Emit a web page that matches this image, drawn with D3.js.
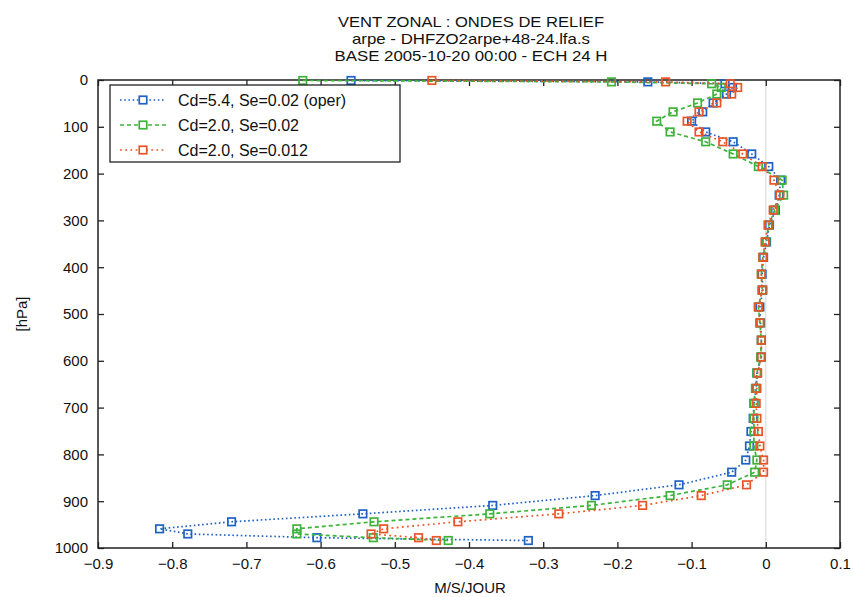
<!DOCTYPE html>
<html>
<head>
<meta charset="utf-8">
<title>Vent zonal : ondes de relief</title>
<script src="https://cdn.jsdelivr.net/npm/d3@7"></script>
<style>
    html, body { margin: 0; padding: 0; background: #fff; }
    svg { display: block; font-family: "Liberation Sans", Arial, Helvetica, sans-serif; }
</style>
</head>
<body>
<div id="chart"></div>
<script>
// Model levels (hPa), shared by the three runs
const levels = [1, 4, 8, 16, 30, 49, 68, 88, 111, 132,
    158, 185, 214, 246, 278, 310, 346, 379, 415, 449,
    485, 519, 556, 592, 626, 659, 691, 723, 751, 782,
    812, 838, 865, 888, 909, 927, 944, 959, 970, 978, 984];

// Cd=5.4, Se=0.02 (oper)
const operValues = [-0.559, -0.159, -0.055, -0.045, -0.053, -0.071, -0.085, -0.100, -0.081, -0.044,
    -0.019, 0.004, 0.020, 0.018, 0.013, 0.005, 0.001, -0.003, -0.005, -0.004,
    -0.008, -0.007, -0.006, -0.006, -0.012, -0.013, -0.016, -0.017, -0.020, -0.022,
    -0.027, -0.046, -0.117, -0.230, -0.368, -0.543, -0.720, -0.817, -0.779, -0.605, -0.320];

// Cd=2.0, Se=0.02
const cd2Values = [-0.624, -0.208, -0.073, -0.060, -0.066, -0.092, -0.125, -0.147, -0.129, -0.081,
    -0.044, -0.010, 0.022, 0.024, 0.012, 0.004, 0.000, -0.004, -0.006, -0.005,
    -0.010, -0.008, -0.006, -0.007, -0.012, -0.014, -0.016, -0.016, -0.016, -0.016,
    -0.012, -0.015, -0.052, -0.129, -0.235, -0.372, -0.528, -0.632, -0.632, -0.529, -0.428];

// Cd=2.0, Se=0.012
const cd2se012Values = [-0.450, -0.135, -0.048, -0.038, -0.046, -0.066, -0.090, -0.106, -0.090, -0.058,
    -0.031, -0.005, 0.011, 0.019, 0.010, 0.003, -0.001, -0.004, -0.006, -0.005,
    -0.010, -0.008, -0.006, -0.006, -0.011, -0.012, -0.013, -0.012, -0.010, -0.008,
    -0.003, -0.003, -0.026, -0.087, -0.166, -0.279, -0.415, -0.515, -0.532, -0.468, -0.444];

const seriesNames = ['Cd=5.4, Se=0.02 (oper)', 'Cd=2.0, Se=0.02', 'Cd=2.0, Se=0.012'];
const xTicks = [-0.9, -0.8, -0.7, -0.6, -0.5, -0.4, -0.3, -0.2, -0.1, 0, 0.1];
const yTicks = [0, 100, 200, 300, 400, 500, 600, 700, 800, 900, 1000];
const titleLines = ['VENT ZONAL : ONDES DE RELIEF', 'arpe - DHFZO2arpe+48-24.lfa.s', 'BASE 2005-10-20 00:00 - ECH 24 H'];

const WIDTH = 853;
const HEIGHT = 597;
const plot = { left: 98, right: 840, top: 80, bottom: 548 };

const styles = [
    { color: '#1f62c4', dash: '1.6,2.6' },
    { color: '#3cb43a', dash: '4,3' },
    { color: '#ea5528', dash: '1.8,3.4' }
];

const series = [operValues, cd2Values, cd2se012Values].map((values, i) => ({
    name: seriesNames[i],
    style: styles[i],
    points: levels.map((p, j) => ({ p, v: values[j] }))
}));

const svg = d3.select('#chart')
    .append('svg')
    .attr('width', WIDTH)
    .attr('height', HEIGHT);

const x = d3.scaleLinear().domain([-0.9, 0.1]).range([plot.left, plot.right]);
const y = d3.scaleLinear().domain([0, 1000]).range([plot.top, plot.bottom]);

// ===== Title =====
const titleWidths = [266, 238, 273];
svg.append('g')
    .selectAll('text')
    .data(titleLines)
    .join('text')
    .attr('x', 471)
    .attr('y', (d, i) => 27 + i * 17)
    .attr('text-anchor', 'middle')
    .attr('font-size', 15)
    .attr('textLength', (d, i) => titleWidths[i])
    .attr('lengthAdjust', 'spacingAndGlyphs')
    .attr('fill', '#111')
    .text(d => d);

// faint zero line
svg.append('line')
    .attr('x1', x(0)).attr('x2', x(0))
    .attr('y1', plot.top).attr('y2', plot.bottom)
    .attr('stroke', '#d8d8d8')
    .attr('stroke-width', 1);

// ===== Axes (ticks inward on all four sides) =====
const tickLen = 6;
const bottomAxis = d3.axisBottom(x).tickValues(xTicks).tickSizeInner(-tickLen).tickSizeOuter(0)
    .tickFormat(d => d === 0 ? '0' : d3.format('.1f')(d));
const topAxis = d3.axisTop(x).tickValues(xTicks).tickSizeInner(-tickLen).tickSizeOuter(0).tickFormat('');
const leftAxis = d3.axisLeft(y).tickValues(yTicks).tickSizeInner(-tickLen).tickSizeOuter(0)
    .tickFormat(d3.format('d'));
const rightAxis = d3.axisRight(y).tickValues(yTicks).tickSizeInner(-tickLen).tickSizeOuter(0).tickFormat('');

function styleAxis(g) {
    g.select('.domain').remove();
    g.selectAll('.tick line').attr('stroke', '#222').attr('stroke-width', 1.3);
    g.selectAll('.tick text')
        .attr('fill', '#111')
        .attr('font-size', 15)
        .attr('font-family', '"Liberation Sans", Arial, sans-serif');
}

svg.append('g')
    .attr('transform', `translate(0,${plot.bottom})`)
    .call(bottomAxis)
    .call(styleAxis)
    .call(g => g.selectAll('.tick text').attr('y', 10));

svg.append('g')
    .attr('transform', `translate(0,${plot.top})`)
    .call(topAxis)
    .call(styleAxis);

svg.append('g')
    .attr('transform', `translate(${plot.left},0)`)
    .call(leftAxis)
    .call(styleAxis)
    .call(g => g.selectAll('.tick text').attr('x', -10));

svg.append('g')
    .attr('transform', `translate(${plot.right},0)`)
    .call(rightAxis)
    .call(styleAxis);

// frame
svg.append('rect')
    .attr('x', plot.left)
    .attr('y', plot.top)
    .attr('width', plot.right - plot.left)
    .attr('height', plot.bottom - plot.top)
    .attr('fill', 'none')
    .attr('stroke', '#222')
    .attr('stroke-width', 1.5);

// axis titles
svg.append('text')
    .attr('x', 470)
    .attr('y', 593)
    .attr('text-anchor', 'middle')
    .attr('font-size', 15)
    .attr('fill', '#111')
    .text('M/S/JOUR');

svg.append('text')
    .attr('transform', 'translate(27,314) rotate(-90)')
    .attr('text-anchor', 'middle')
    .attr('font-size', 15)
    .attr('fill', '#111')
    .text('[hPa]');

// ===== Profiles =====
const line = d3.line()
    .x(d => x(d.v))
    .y(d => y(d.p));

const marker = 7.5;
const profiles = svg.append('g').attr('class', 'profiles');

series.forEach(s => {
    const g = profiles.append('g');

    g.append('path')
        .datum(s.points)
        .attr('d', line)
        .attr('fill', 'none')
        .attr('stroke', s.style.color)
        .attr('stroke-width', 1.7)
        .attr('stroke-dasharray', s.style.dash);

    g.selectAll('rect')
        .data(s.points)
        .join('rect')
        .attr('x', d => x(d.v) - marker / 2)
        .attr('y', d => y(d.p) - marker / 2)
        .attr('width', marker)
        .attr('height', marker)
        .attr('fill', 'none')
        .attr('stroke', s.style.color)
        .attr('stroke-width', 1.7);
});

// ===== Legend =====
const legend = svg.append('g').attr('class', 'legend');

legend.append('rect')
    .attr('x', 110)
    .attr('y', 85)
    .attr('width', 290)
    .attr('height', 77)
    .attr('fill', '#fff')
    .attr('stroke', '#222')
    .attr('stroke-width', 1.3);

series.forEach((s, i) => {
    const cy = 100 + i * 25;
    legend.append('line')
        .attr('x1', 120).attr('x2', 166)
        .attr('y1', cy).attr('y2', cy)
        .attr('stroke', s.style.color)
        .attr('stroke-width', 1.7)
        .attr('stroke-dasharray', s.style.dash);
    legend.append('rect')
        .attr('x', 143 - marker / 2)
        .attr('y', cy - marker / 2)
        .attr('width', marker)
        .attr('height', marker)
        .attr('fill', '#fff')
        .attr('stroke', s.style.color)
        .attr('stroke-width', 1.7);
    legend.append('text')
        .attr('x', 178)
        .attr('y', cy + 6)
        .attr('font-size', 16)
        .attr('fill', '#111')
        .text(s.name);
});
</script>
</body>
</html>
